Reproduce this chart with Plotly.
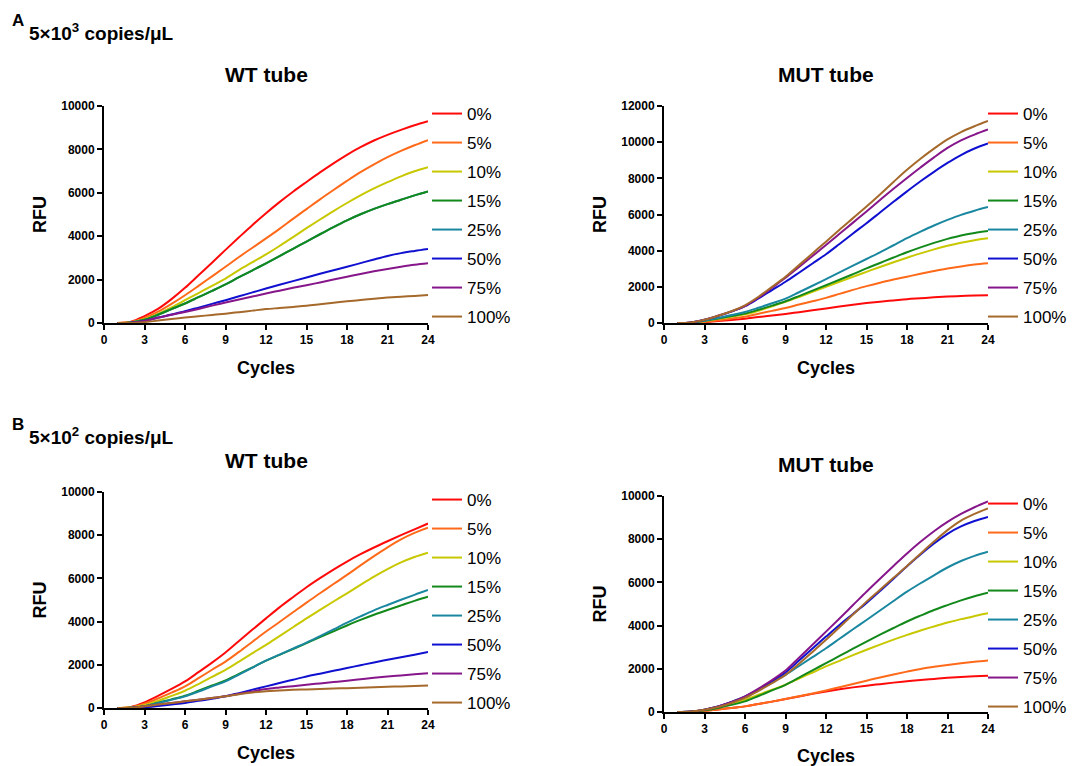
import plotly.graph_objects as go

cycles = list(range(1, 25))
labels = ["0%", "5%", "10%", "15%", "25%", "50%", "75%", "100%"]
colors = ["#FF0A0A", "#FF6A1A", "#C8C800", "#12891A", "#1A87A0", "#1010D0", "#86168A", "#A5692B"]

# Panel A (5x10^3 copies/uL), WT tube
a_wt = {
    "0%":   [0, 60, 320, 650, 1100, 1620, 2200, 2780, 3370, 3950, 4520, 5060, 5570, 6050, 6500, 6940, 7360, 7750, 8100, 8410, 8670, 8900, 9110, 9300],
    "5%":   [0, 40, 230, 520, 880, 1280, 1710, 2150, 2590, 3040, 3470, 3900, 4340, 4800, 5250, 5700, 6130, 6550, 6950, 7310, 7640, 7930, 8190, 8430],
    "10%":  [0, 30, 170, 420, 720, 1050, 1380, 1710, 2050, 2440, 2800, 3160, 3550, 3960, 4370, 4770, 5160, 5530, 5880, 6200, 6490, 6760, 6990, 7180],
    "15%":  [0, 25, 150, 380, 640, 900, 1190, 1480, 1780, 2110, 2430, 2750, 3080, 3420, 3750, 4090, 4420, 4730, 5010, 5260, 5480, 5680, 5880, 6060],
    "25%":  [0, 25, 150, 380, 640, 900, 1190, 1480, 1780, 2110, 2430, 2750, 3080, 3420, 3750, 4090, 4420, 4730, 5010, 5260, 5480, 5680, 5880, 6060],
    "50%":  [0, 10, 90, 250, 390, 540, 710, 880, 1050, 1230, 1410, 1590, 1760, 1930, 2100, 2270, 2430, 2590, 2760, 2930, 3090, 3220, 3320, 3410],
    "75%":  [0, 10, 90, 240, 380, 510, 650, 800, 940, 1080, 1220, 1360, 1490, 1620, 1740, 1870, 2000, 2130, 2260, 2380, 2490, 2590, 2680, 2750],
    "100%": [0, 0, 40, 110, 180, 250, 310, 370, 430, 500, 570, 640, 690, 740, 790, 860, 930, 1000, 1060, 1120, 1170, 1210, 1250, 1290],
}

# Panel A, MUT tube
a_mut = {
    "0%":   [0, 5, 40, 110, 170, 240, 330, 410, 500, 600, 700, 800, 910, 1010, 1100, 1180, 1250, 1320, 1370, 1420, 1460, 1490, 1520, 1540],
    "5%":   [0, 10, 60, 150, 250, 350, 510, 670, 830, 1020, 1200, 1390, 1610, 1830, 2040, 2230, 2400, 2560, 2720, 2870, 3010, 3130, 3230, 3300],
    "10%":  [0, 15, 110, 230, 350, 480, 680, 920, 1170, 1440, 1720, 2000, 2280, 2560, 2830, 3100, 3360, 3610, 3850, 4070, 4270, 4440, 4580, 4690],
    "15%":  [0, 20, 130, 250, 380, 520, 730, 960, 1200, 1490, 1790, 2090, 2390, 2700, 3020, 3320, 3620, 3910, 4180, 4430, 4650, 4840, 4980, 5090],
    "25%":  [0, 20, 130, 280, 440, 610, 840, 1090, 1350, 1700, 2060, 2430, 2800, 3170, 3540, 3910, 4300, 4690, 5050, 5390, 5700, 5980, 6210, 6410],
    "50%":  [0, 30, 180, 390, 630, 930, 1360, 1820, 2280, 2780, 3290, 3800, 4370, 4950, 5520, 6110, 6700, 7280, 7840, 8360, 8850, 9290, 9650, 9930],
    "75%":  [0, 30, 180, 400, 640, 940, 1400, 1950, 2500, 3100, 3700, 4310, 4930, 5550, 6170, 6800, 7420, 8020, 8600, 9160, 9680, 10100, 10420, 10700],
    "100%": [0, 30, 180, 400, 650, 980, 1450, 2000, 2560, 3200, 3850, 4500, 5160, 5800, 6440, 7110, 7800, 8470, 9080, 9640, 10150, 10560, 10880, 11170],
}

# Panel B (5x10^2 copies/uL), WT tube
b_wt = {
    "0%":   [0, 50, 260, 560, 880, 1230, 1660, 2100, 2570, 3100, 3630, 4150, 4660, 5130, 5590, 6010, 6410, 6780, 7120, 7430, 7720, 8000, 8270, 8540],
    "5%":   [0, 40, 200, 440, 710, 1000, 1380, 1770, 2150, 2600, 3070, 3540, 3980, 4430, 4880, 5310, 5740, 6160, 6600, 7030, 7440, 7810, 8110, 8350],
    "10%":  [0, 30, 140, 330, 560, 800, 1110, 1440, 1770, 2150, 2540, 2920, 3330, 3740, 4150, 4540, 4930, 5310, 5700, 6080, 6430, 6740, 6990, 7190],
    "15%":  [0, 10, 80, 250, 400, 570, 800, 1040, 1280, 1580, 1880, 2190, 2460, 2730, 3000, 3280, 3550, 3820, 4080, 4320, 4540, 4750, 4960, 5150],
    "25%":  [0, 10, 80, 230, 380, 540, 760, 1000, 1230, 1550, 1870, 2190, 2470, 2750, 3030, 3330, 3640, 3950, 4240, 4520, 4770, 5010, 5240, 5460],
    "50%":  [0, 5, 30, 90, 160, 230, 330, 430, 540, 690, 850, 1000, 1160, 1310, 1460, 1590, 1720, 1850, 1980, 2110, 2230, 2350, 2470, 2590],
    "75%":  [0, 10, 80, 160, 230, 310, 380, 460, 540, 660, 770, 880, 950, 1010, 1080, 1140, 1200, 1260, 1330, 1400, 1460, 1510, 1560, 1610],
    "100%": [0, 10, 80, 160, 230, 310, 380, 460, 540, 640, 720, 780, 810, 840, 860, 880, 900, 920, 940, 960, 980, 1000, 1020, 1040],
}

# Panel B, MUT tube
b_mut = {
    "0%":   [0, 5, 45, 120, 190, 260, 370, 480, 600, 720, 840, 950, 1050, 1140, 1220, 1290, 1360, 1420, 1480, 1530, 1580, 1620, 1650, 1680],
    "5%":   [0, 5, 45, 120, 190, 260, 370, 480, 600, 730, 860, 1000, 1150, 1300, 1450, 1600, 1740, 1870, 1990, 2090, 2180, 2260, 2330, 2390],
    "10%":  [0, 20, 110, 240, 400, 570, 800, 1030, 1260, 1550, 1830, 2110, 2370, 2630, 2880, 3120, 3350, 3570, 3770, 3960, 4140, 4300, 4440, 4570],
    "15%":  [0, 15, 80, 190, 330, 490, 740, 1000, 1260, 1590, 1930, 2260, 2600, 2930, 3260, 3580, 3890, 4190, 4460, 4720, 4950, 5170, 5360, 5520],
    "25%":  [0, 20, 110, 260, 470, 720, 1040, 1380, 1720, 2130, 2540, 2950, 3390, 3830, 4260, 4700, 5140, 5570, 5960, 6330, 6690, 6990, 7230, 7420],
    "50%":  [0, 20, 110, 250, 450, 690, 1040, 1430, 1830, 2380, 2940, 3490, 4030, 4540, 5050, 5600, 6170, 6750, 7290, 7800, 8250, 8590, 8840, 9030],
    "75%":  [0, 20, 110, 260, 460, 720, 1080, 1480, 1920, 2510, 3110, 3720, 4330, 4950, 5570, 6170, 6760, 7340, 7880, 8370, 8800, 9170, 9480, 9750],
    "100%": [0, 20, 100, 230, 420, 650, 980, 1340, 1720, 2230, 2780, 3340, 3920, 4510, 5110, 5660, 6210, 6760, 7330, 7890, 8420, 8860, 9170, 9420],
}

# the page body adds an 8px margin; size the figure to fit the window
OFF = 8
W, H = 1075 - OFF, 766 - OFF
FONT = "Arial, Liberation Sans, sans-serif"

def px_x(p):
    return (p - OFF) / W

def px_y(p):
    return 1 - (p - OFF) / H

panels = [
    # data, x axis, y axis, legend, x px range, y px range, y max, dtick, title, title y px, legend x px
    (a_wt, "x", "y", "legend", (104, 428), (106, 323), 10000, 2000, "WT tube", 74, 427),
    (a_mut, "x2", "y2", "legend2", (664, 988), (106, 323), 12000, 2000, "MUT tube", 74, 983),
    (b_wt, "x3", "y3", "legend3", (104, 428), (492, 708), 10000, 2000, "WT tube", 460, 427),
    (b_mut, "x4", "y4", "legend4", (664, 988), (496, 712), 10000, 2000, "MUT tube", 464, 983),
]

fig = go.Figure()
layout = dict(
    width=W, height=H,
    margin=dict(l=0, r=0, t=0, b=0, autoexpand=False),
    paper_bgcolor="white", plot_bgcolor="white",
    font=dict(family=FONT, color="black"),
    annotations=[], showlegend=True,
)

for pi, (data, xa, ya, lg, (xl, xr), (yt, yb), ymax, dt, title, ty, lx) in enumerate(panels):
    order = list(range(len(labels)))
    if pi == 0:
        # 25% curve lies beneath the 15% curve
        order = [0, 1, 2, 4, 3, 5, 6, 7]
    for i in order:
        lab = labels[i]
        fig.add_trace(go.Scatter(
            x=cycles, y=data[lab], mode="lines", name=lab,
            line=dict(color=colors[i], width=2, shape="spline", smoothing=1.0),
            xaxis=xa, yaxis=ya, legend=lg, legendgroup=f"{lg}_{i}", legendrank=i + 1,
            showlegend=True,
        ))
    xkey = "xaxis" if xa == "x" else "xaxis" + xa[1:]
    ykey = "yaxis" if ya == "y" else "yaxis" + ya[1:]
    layout[xkey] = dict(
        domain=[px_x(xl), px_x(xr)], anchor=ya, range=[0, 24],
        tickmode="array", tickvals=list(range(0, 25, 3)),
        showline=True, linewidth=2, linecolor="black", mirror=False,
        ticks="outside", ticklen=5, tickwidth=2, tickcolor="black",
        showgrid=False, zeroline=False, automargin=False,
        tickfont=dict(family=FONT, size=12, weight="bold", color="black"),
        title=dict(text="Cycles", font=dict(family=FONT, size=18, weight="bold"), standoff=15),
    )
    layout[ykey] = dict(
        domain=[px_y(yb), px_y(yt)], anchor=xa, range=[0, ymax],
        dtick=dt, tick0=0, tickformat="d",
        showline=True, linewidth=2, linecolor="black",
        ticks="outside", ticklen=5, tickwidth=2, tickcolor="black",
        showgrid=False, zeroline=False, automargin=False,
        tickfont=dict(family=FONT, size=12, weight="bold", color="black"),
        title=dict(text="RFU", font=dict(family=FONT, size=18, weight="bold"), standoff=10),
    )
    layout[lg] = dict(
        x=px_x(lx), xanchor="left", y=px_y(yt - 10), yanchor="top",
        font=dict(family=FONT, size=17, color="black"),
        tracegroupgap=3.9, bgcolor="rgba(0,0,0,0)",
        itemwidth=30,
    )
    layout["annotations"].append(dict(
        text=f"<b>{title}</b>", x=px_x((xl + xr) / 2), y=px_y(ty), xref="paper", yref="paper",
        xanchor="center", yanchor="middle", showarrow=False,
        font=dict(family=FONT, size=21, color="black"),
    ))

for letter, sup, ly, ty in [("A", "3", 21, 32), ("B", "2", 424, 436)]:
    layout["annotations"].append(dict(
        text=f"<b>{letter}</b>", x=px_x(10), y=px_y(ly), xref="paper", yref="paper",
        xanchor="left", yanchor="middle", showarrow=False,
        font=dict(family=FONT, size=17, color="black"),
    ))
    layout["annotations"].append(dict(
        text=f"<b>5×10<sup>{sup}</sup> copies/μL</b>", x=px_x(27), y=px_y(ty), xref="paper", yref="paper",
        xanchor="left", yanchor="middle", showarrow=False,
        font=dict(family=FONT, size=19, color="black"),
    ))

fig.update_layout(**layout)
fig.write_html("out.html")
